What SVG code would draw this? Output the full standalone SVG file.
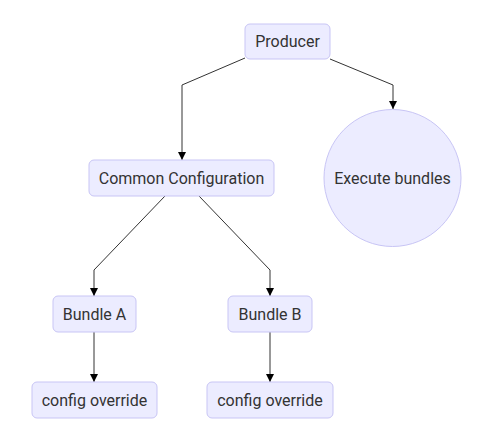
<svg xmlns="http://www.w3.org/2000/svg" width="495" height="445" viewBox="0 0 495 445">
<style>
.node rect, .node circle { fill: #ECECFF; stroke: #C8C5F5; stroke-width: 1; }
.node text { font-family: Roboto, "Liberation Sans", sans-serif; font-size: 16px; fill: #333; text-anchor: middle; dominant-baseline: central; }
.edges path { fill: none; stroke: #333; stroke-width: 1; marker-end: url(#arrow); }
</style>
<defs>
<marker id="arrow" viewBox="0 0 10 10" refX="10" refY="5" markerWidth="8" markerHeight="8" markerUnits="userSpaceOnUse" orient="auto">
<path d="M0,0 L10,5 L0,10 z" fill="#000"/>
</marker>
</defs>
<rect width="495" height="445" fill="#fff"/>
<g class="edges">
<path d="M245,58 L182,85 L182,160"/>
<path d="M330,59 L393,85 L393,109"/>
<path d="M165,196 L94,270 L94,296"/>
<path d="M199,196 L270,270 L270,296"/>
<path d="M94,332 L94,382"/>
<path d="M270,332 L270,382"/>
</g>
<g id="producer" class="node">
<rect x="245" y="24" width="85" height="35" rx="5"/>
<text x="287.5" y="41.5">Producer</text>
</g>
<g id="common" class="node">
<rect x="89" y="160" width="185" height="36" rx="5"/>
<text x="181.5" y="178">Common Configuration</text>
</g>
<g id="execute" class="node">
<circle cx="392.5" cy="178" r="68.5"/>
<text x="392.5" y="178">Execute bundles</text>
</g>
<g id="bundleA" class="node">
<rect x="53" y="296" width="83" height="36" rx="5"/>
<text x="94.5" y="314">Bundle A</text>
</g>
<g id="bundleB" class="node">
<rect x="228" y="296" width="84" height="36" rx="5"/>
<text x="270" y="314">Bundle B</text>
</g>
<g id="overrideA" class="node">
<rect x="32" y="382" width="125" height="36" rx="5"/>
<text x="94.5" y="400">config override</text>
</g>
<g id="overrideB" class="node">
<rect x="207" y="382" width="126" height="36" rx="5"/>
<text x="270" y="400">config override</text>
</g>
</svg>
